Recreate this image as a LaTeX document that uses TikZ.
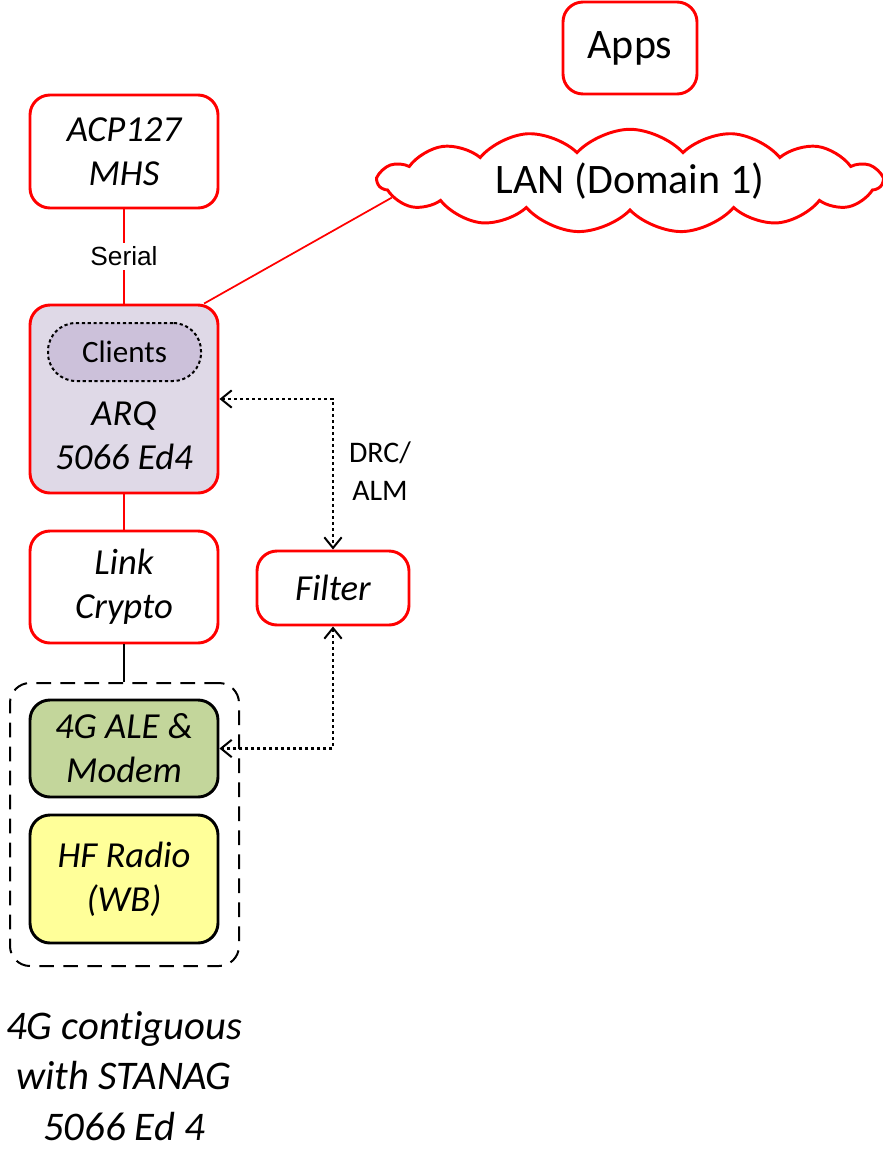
\documentclass[tikz,border=0pt]{standalone}
\usepackage{fontspec}
\setmainfont{Carlito}[Ligatures=CommonOff]
\newfontfamily\arialfont{Liberation Sans}
\usetikzlibrary{arrows.meta,shapes.symbols}

\definecolor{arqfill}{HTML}{DFD9E7}
\definecolor{clientfill}{HTML}{CCC1DA}
\definecolor{modemfill}{HTML}{C3D69B}
\definecolor{radiofill}{HTML}{FFFF99}

\tikzset{
  box/.style={draw=red, line width=2.2pt, rounded corners=15pt, fill=white,
    align=center, inner sep=0pt,
    font=\fontsize{27.5}{33}\selectfont\itshape},
  blackbox/.style={box, draw=black},
  redline/.style={draw=red, line width=1.3pt},
  blackline/.style={draw=black, line width=1.2pt},
  sig/.style={draw=black, line width=2pt, dash pattern=on 2.5pt off 2pt,
    {Straight Barb[length=8pt,width=13pt,line width=1.5pt]}-{Straight Barb[length=8pt,width=13pt,line width=1.5pt]}},
}

\begin{document}
\begin{tikzpicture}[x=0.75pt,y=-0.75pt]
\useasboundingbox (0,0) rectangle (882,1149);

% upper application side
\node[box, font=\fontsize{31.5}{38}\selectfont, minimum width=100.5pt, minimum height=69pt]
  (apps) at (630,48) {Apps};
\node[cloud, draw=red, line width=2.2pt, cloud puffs=15, cloud puff arc=95, aspect=5.4,
  minimum width=378pt, minimum height=69.75pt, inner sep=0pt,
  font=\fontsize{31.5}{38}\selectfont]
  (lan) at (630,181) {LAN (Domain 1)};

\node[box, minimum width=141pt, minimum height=84.75pt]
  (acp) at (124,151.5) {ACP127\\MHS};

% ARQ stack
\node[box, fill=arqfill, minimum width=141pt, minimum height=141pt]
  (arq) at (124,399) {};
\node[draw=black, line width=1.5pt, dash pattern=on 2.4pt off 2pt, rounded corners=21pt,
  fill=clientfill, minimum width=114.75pt, minimum height=43.5pt, inner sep=0pt,
  font=\fontsize{23.3}{28}\selectfont]
  (clients) at (124.5,352) {Clients};
\node[align=center, inner sep=0pt, font=\fontsize{27.5}{33}\selectfont\itshape]
  (arqtxt) at (124,436) {ARQ\\5066 Ed4};

\node[box, minimum width=141pt, minimum height=84pt]
  (link) at (124,587) {Link\\Crypto};
\node[box, minimum width=114pt, minimum height=55.5pt]
  (filter) at (333,588) {Filter};

% radio group
\node[draw=black, line width=1.5pt, dash pattern=on 11pt off 7pt, rounded corners=15pt,
  minimum width=171.75pt, minimum height=212.25pt, inner sep=0pt]
  (grp) at (124.5,824.5) {};
\node[blackbox, fill=modemfill, minimum width=141pt, minimum height=72.75pt]
  (modem) at (124,748.5) {4G ALE \&\\Modem};
\node[blackbox, fill=radiofill, minimum width=141pt, minimum height=96pt]
  (radio) at (124,879) {HF Radio\\(WB)};

\node[align=center, inner sep=0pt, font=\fontsize{30.5}{38}\selectfont\itshape]
  (caption) at (124,1076) {4G contiguous\\with STANAG\\5066 Ed 4};

% connectors
\draw[redline] (acp.south) -- node[fill=white, inner sep=3pt,
  font=\arialfont\fontsize{19.7}{24}\selectfont] (serial) {Serial} (arq.north);
\draw[redline] (arq.50) -- (lan.184);
\draw[redline] (arq.south) -- (link.north);
\draw[blackline] (link.south) -- (link.south |- grp.north);

\draw[sig] (arq.east) -| (filter.north);
\draw[sig] (filter.south) |- (modem.east);
\node[align=center, inner sep=0pt, font=\fontsize{22.4}{28.5}\selectfont]
  (drc) at (380,471) {DRC/\\ALM};
\end{tikzpicture}
\end{document}
